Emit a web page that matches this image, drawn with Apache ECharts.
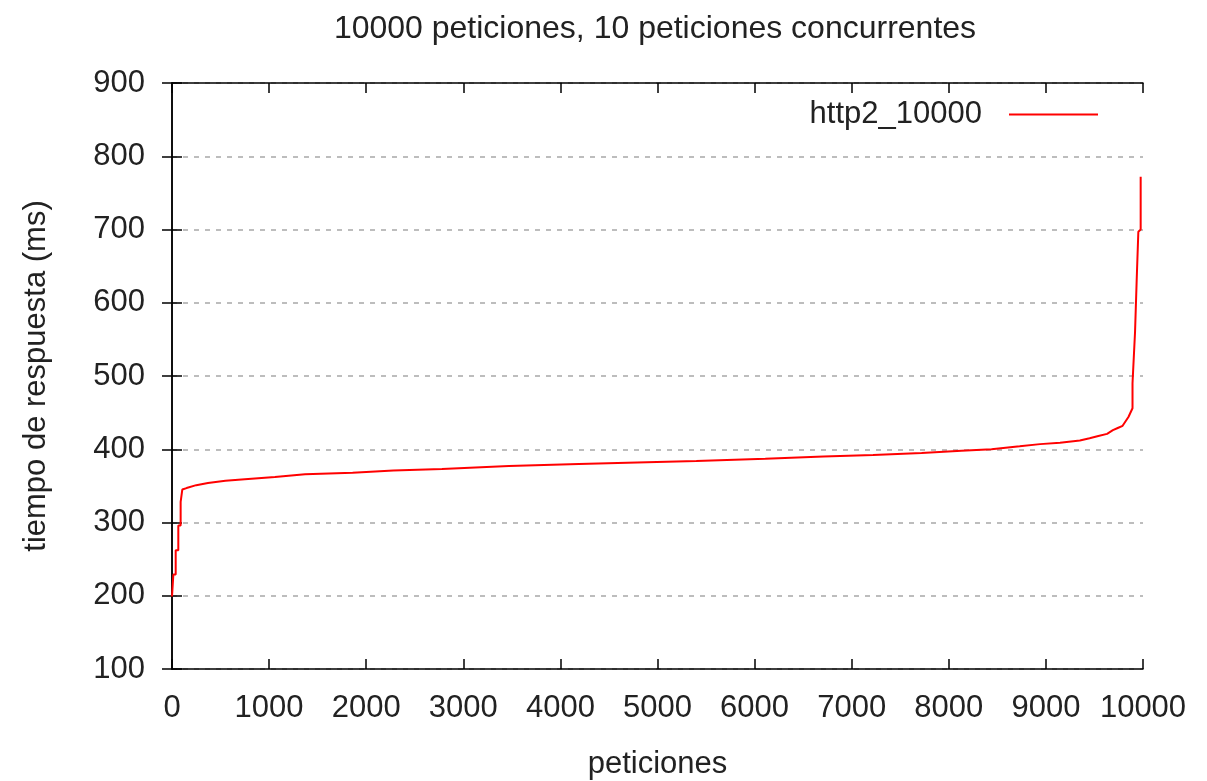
<!DOCTYPE html>
<html>
<head>
<meta charset="utf-8">
<script src="https://cdn.jsdelivr.net/npm/echarts@6/dist/echarts.min.js"></script>
<style>
  html, body { margin: 0; padding: 0; background: #fff; }
  #chart { width: 1207px; height: 781px; }
</style>
</head>
<body>
<div id="chart"></div>
<script>
// Response time per request (sorted), 10000 requests with 10 concurrent
const requests = [0, 14, 14, 38, 38, 65, 65, 89, 89, 106, 150, 250, 370, 550, 750, 1060, 1370, 1860, 2280, 2780, 3470, 4190, 4790, 5400, 6110, 6710, 7220, 7720, 8130, 8440, 8730, 8940, 9145, 9350, 9450, 9540, 9630, 9690, 9740, 9790, 9850, 9892, 9892, 9918, 9935, 9952, 9976, 9976];
const times = [199, 199, 229, 229, 262, 262, 296, 296, 328, 345, 347, 351, 354, 357, 359, 362, 366, 368, 371, 373, 377, 380, 382, 384, 387, 390, 392, 395, 398, 400, 404, 407, 409, 412, 415, 418, 421, 426, 429, 432, 444, 456, 490, 560, 631, 697, 700, 772];
const xTicks = [0, 10000, 1000];   // min, max, step
const yTicks = [100, 900, 100];
const seriesName = 'http2_10000';

const FONT = 'Liberation Sans';
const points = requests.map((x, i) => [x, times[i]]);

const chart = echarts.init(document.getElementById('chart'), null, { renderer: 'canvas' });

const frameLine = { show: true, lineStyle: { color: '#000', width: 1.5 } };
const innerTick = { show: true, inside: true, length: 10, lineStyle: { color: '#000', width: 1.5 } };
const plain = v => String(v);

chart.setOption({
  backgroundColor: '#fff',
  animation: false,
  title: {
    text: '10000 peticiones, 10 peticiones concurrentes',
    left: 650,
    top: 8,
    textAlign: 'center',
    textStyle: { fontFamily: FONT, fontSize: 32, fontWeight: 'normal', color: '#222' }
  },
  legend: {
    data: [seriesName],
    right: 104,
    top: 94,
    align: 'right',
    icon: 'rect',
    itemWidth: 89,
    itemHeight: 2,
    textStyle: { fontFamily: FONT, fontSize: 31, color: '#222', padding: [0, 22, 0, 0] }
  },
  grid: { left: 172, right: 64, top: 83, bottom: 112, containLabel: false, outerBoundsMode: 'none' },
  xAxis: [
    {
      type: 'value', min: xTicks[0], max: xTicks[1], interval: xTicks[2],
      name: 'peticiones', nameLocation: 'middle', nameGap: 80,
      nameTextStyle: { fontFamily: FONT, fontSize: 31, color: '#222' },
      axisLine: frameLine, axisTick: innerTick,
      axisLabel: { fontFamily: FONT, fontSize: 31, color: '#222', margin: 24, formatter: plain },
      splitLine: { show: false }
    },
    {
      type: 'value', position: 'top', min: xTicks[0], max: xTicks[1], interval: xTicks[2],
      axisLine: frameLine, axisTick: innerTick, axisLabel: { show: false }, splitLine: { show: false }
    }
  ],
  yAxis: [
    {
      type: 'value', min: yTicks[0], max: yTicks[1], interval: yTicks[2],
      name: 'tiempo de respuesta (ms)', nameLocation: 'middle', nameGap: 120,
      nameTextStyle: { fontFamily: FONT, fontSize: 31, color: '#222' },
      axisLine: frameLine, axisTick: innerTick,
      axisLabel: { fontFamily: FONT, fontSize: 31, color: '#222', margin: 27, formatter: plain },
      splitLine: { show: true, lineStyle: { color: '#a8a8a8', width: 1.5, type: [5, 6] } }
    },
    {
      type: 'value', position: 'right', min: yTicks[0], max: yTicks[1], interval: yTicks[2],
      axisLine: frameLine, axisTick: innerTick, axisLabel: { show: false }, splitLine: { show: false }
    }
  ],
  series: [
    {
      name: seriesName,
      type: 'line',
      data: points,
      showSymbol: false,
      symbol: 'none',
      color: '#ff0000',
      lineStyle: { color: '#ff0000', width: 2 }
    }
  ]
});
</script>
</body>
</html>
